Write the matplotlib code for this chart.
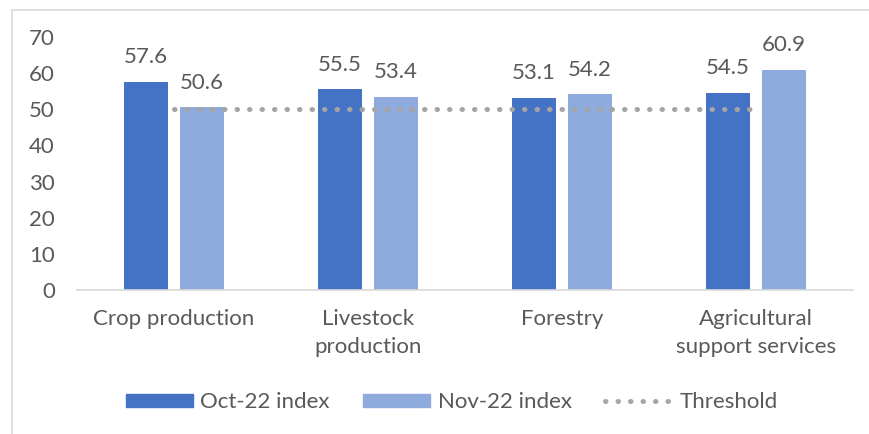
import numpy as np
from matplotlib import pyplot as plt
from matplotlib.lines import Line2D
from matplotlib.patches import Patch

categories = ["Crop production", "Livestock\nproduction", "Forestry", "Agricultural\nsupport services"]
oct_values = [57.6, 55.5, 53.1, 54.5]
nov_values = [50.6, 53.4, 54.2, 60.9]
threshold = [50, 50, 50, 50]

oct_color = "#4472C4"
nov_color = "#8FAADC"
text_color = "#595959"

plt.rcParams["font.family"] = ["Lato", "DejaVu Sans"]

fig = plt.figure(figsize=(8.69, 4.34), dpi=100)
ax = fig.add_axes([0.0886, 0.3318, 0.893, 0.583])

x = np.arange(len(categories))
w = 0.227
off = 0.145
dots = (0, (0.1, 2.4))
b1 = ax.bar(x - off, oct_values, w, color=oct_color, label="Oct-22 index")
b2 = ax.bar(x + off, nov_values, w, color=nov_color, label="Nov-22 index")
ax.plot(x, threshold, color="#A5A5A5", linestyle=dots, linewidth=3.6,
        dash_capstyle="round", label="Threshold")

for bars, vals in ((b1, oct_values), (b2, nov_values)):
    for b, v in zip(bars, vals):
        ax.text(b.get_x() + b.get_width() / 2, v + 6.8, f"{v:.1f}", ha="center", va="center",
                fontsize=16, color=text_color)

ax.set_xlim(-0.5, 3.5)
ax.set_ylim(0, 70)
ax.set_yticks(range(0, 71, 10))
ax.set_xticks(x)
ax.set_xticklabels(categories, linespacing=1.5)
ax.tick_params(axis="both", length=0, labelsize=16, colors=text_color)
ax.tick_params(axis="x", pad=14)
ax.tick_params(axis="y", pad=16)
for s in ["top", "right", "left"]:
    ax.spines[s].set_visible(False)
ax.spines["bottom"].set_color("#D9D9D9")
ax.spines["bottom"].set_linewidth(1.2)

handles = [Patch(color=oct_color), Patch(color=nov_color),
           Line2D([0], [0], color="#A5A5A5", linestyle=dots, linewidth=3.6,
                  dash_capstyle="round")]
fig.legend(handles, ["Oct-22 index", "Nov-22 index", "Threshold"], loc="center",
           bbox_to_anchor=(0.52, 0.073), ncol=3, frameon=False, fontsize=16,
           labelcolor=text_color, handlelength=3.0, handleheight=0.55,
           columnspacing=1.5, handletextpad=0.35)

# chart frame
fig.add_artist(Line2D([12 / 869, 12 / 869], [0, 1 - 10 / 434], color="#D9D9D9", linewidth=1.2))
fig.add_artist(Line2D([12 / 869, 1], [1 - 10 / 434, 1 - 10 / 434], color="#D9D9D9", linewidth=1.2))

fig.savefig("out.png", dpi=100)
